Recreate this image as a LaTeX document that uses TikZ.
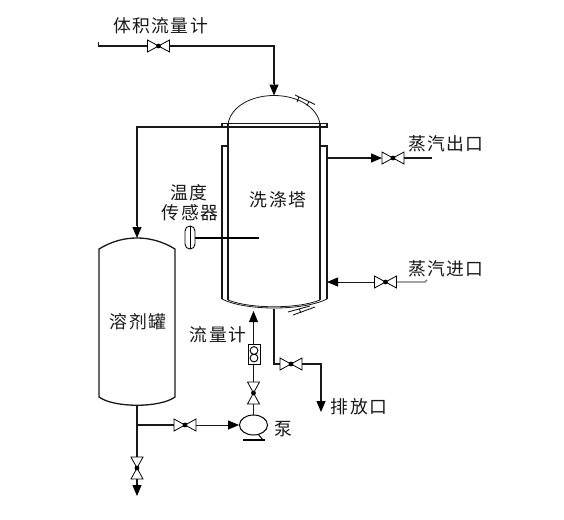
\documentclass[tikz,border=0pt]{standalone}
\usepackage{fontspec}
\setmainfont{Noto Sans CJK SC}[Scale=1,LetterSpace=8]
\usetikzlibrary{arrows.meta}
\tikzset{
 pipe/.style={line width=1.6pt,draw=black!90},
 thin pipe/.style={line width=0.9pt,draw=black!90},
 vessel/.style={line width=1.3pt,draw=black!90},
 curved/.style={line width=.8pt,draw=black!90},
 tip/.style={-{Triangle[length=11pt,width=9pt]}},
 lbl/.style={inner sep=0pt,font=\fontsize{17.8}{20}\selectfont,text=black!90},
 valveh/.pic={\draw[line width=.8pt,fill=white] (-11,-6)--(11,6)--(11,-6)--(-11,6)--cycle; \fill (0,0) circle (2.4);},
 valvev/.pic={\draw[line width=.8pt,fill=white] (-6,-11)--(6,11)--(-6,11)--(6,-11)--cycle; \fill (0,0) circle (2.4);},
}
\begin{document}
\begin{tikzpicture}[x=1pt,y=-1pt]
\useasboundingbox[fill=white] (0,0) rectangle (564,519);
% column
\coordinate (feed) at (98.5,42);
\coordinate (domeTop) at (274,95.5);
\coordinate (drainTop) at (274,309);
\draw[vessel] (228,123) -- (228,300) (320,123) -- (320,300);
\draw[curved] (228,124) .. controls (231,106) and (252,95.5) .. (274,95.5) .. controls (296,95.5) and (317,106) .. (320,124);
\draw[curved] (228,300) .. controls (250,309) and (298,309) .. (320,300);
\draw[vessel] (228,146) -- (222,146) -- (222,299) (327,299) -- (327,146) -- (320,146);
\draw[curved] (222,299) .. controls (245,311) and (303,311) .. (327,299);
\draw[line width=1.1pt,draw=black!90] (222,123.5) rectangle (327,127);
\draw[thin pipe] (295,95) -- (315,104.5) (297,102) -- (299,97) (307,106) -- (309,101);
\draw[thin pipe] (293,315) -- (315,307) (299,308.5) -- (301,313) (288,312) -- (310,306);
% feed line
\draw[pipe] (feed) -- (98.5,46) -- (147,46);
\draw[pipe] (170,46) -- (274,46) -- (274,84);
\draw[tip,draw=black,line width=1pt] (274,83) -- (domeTop);
\pic at (158.5,46) {valveh};
% solvent tank
\draw[vessel] (99,397) -- (99,249) .. controls (112,241) and (125,238) .. (137,238) .. controls (149,238) and (162,241) .. (175,249) -- (175,397) .. controls (160,408) and (114,408) .. (99,397) -- cycle;
\draw[pipe] (222,127) -- (137,127) -- (137,226);
\draw[tip,draw=black,line width=1pt] (137,225) -- (137,238);
% steam out
\draw[pipe] (327,158) -- (372,158);
\draw[tip,line width=1pt,draw=black] (368,158) -- (382,158);
\pic at (393,158) {valveh};
\draw[pipe] (404,158) -- (432,158);
% steam in
\coordinate (steamIn) at (427,281);
\draw[thin pipe,draw=black!55,line width=1.1pt] (397,282) -- (425,282) -- (427,280);
\draw[thin pipe] (374,282) -- (335,282);
\draw[tip,line width=.8pt] (338,282) -- (327,282);
\pic at (385.5,282) {valveh};
% sensor
\draw[line width=1.3pt] (195,238) -- (259,238);
\draw[line width=.9pt,rounded corners=4.9pt,fill=white] (185,226) rectangle (195,249);
\draw[line width=1pt] (190,226) -- (190,249);
% drain
\draw[pipe] (drainTop) -- (274,364) -- (280,364);
\draw[pipe] (302,364) -- (321,364) -- (321,402);
\draw[tip,line width=1pt] (321,400) -- (321,412);
\pic at (291,364) {valveh};
% pump
\draw[line width=1pt,fill=white] (253.5,425) ellipse (14 and 10);
\draw[line width=1pt] (258,434) -- (263,440);
\draw[line width=1.3pt] (243,440) -- (265,440);
\draw[pipe] (253.5,415) -- (253.5,403);
\pic at (253.5,393) {valvev};
\draw[thin pipe] (253.5,382) -- (253.5,364);
\draw[line width=1pt,fill=white] (248,344.5) rectangle (260,364);
\draw[line width=.9pt] (254,350.5) circle (3.9) (254,358) circle (3.9);
\draw[thin pipe] (253.5,344) -- (253.5,322);
\draw[tip,line width=.8pt] (253.5,323) -- (253.5,311);
% tank outlet
\draw[pipe] (137,406) -- (137,457);
\draw[pipe] (137,425) -- (174,425);
\pic at (185,425) {valveh};
\draw[thin pipe] (196,425) -- (228,425);
\draw[tip,line width=.8pt] (227,425) -- (239,425);
\pic at (137,468) {valvev};
\draw[pipe] (137,479) -- (137,486);
\draw[tip,line width=1pt] (137,484) -- (137,496);
% labels
\node[lbl] (t1) at (160.5,26) {体积流量计};
\node[lbl] (t2) at (446,144) {蒸汽出口};
\node[lbl] (t3) at (446,269) {蒸汽进口};
\node[lbl] (t4) at (278,200) {洗涤塔};
\node[lbl] (t5) at (189,193) {温度};
\node[lbl] (t6) at (190,213) {传感器};
\node[lbl] (t7) at (138,322) {溶剂罐};
\node[lbl] (t8) at (218,335) {流量计};
\node[lbl] (t9) at (283,429) {泵};
\node[lbl] (t10) at (359,407) {排放口};
\end{tikzpicture}
\end{document}
